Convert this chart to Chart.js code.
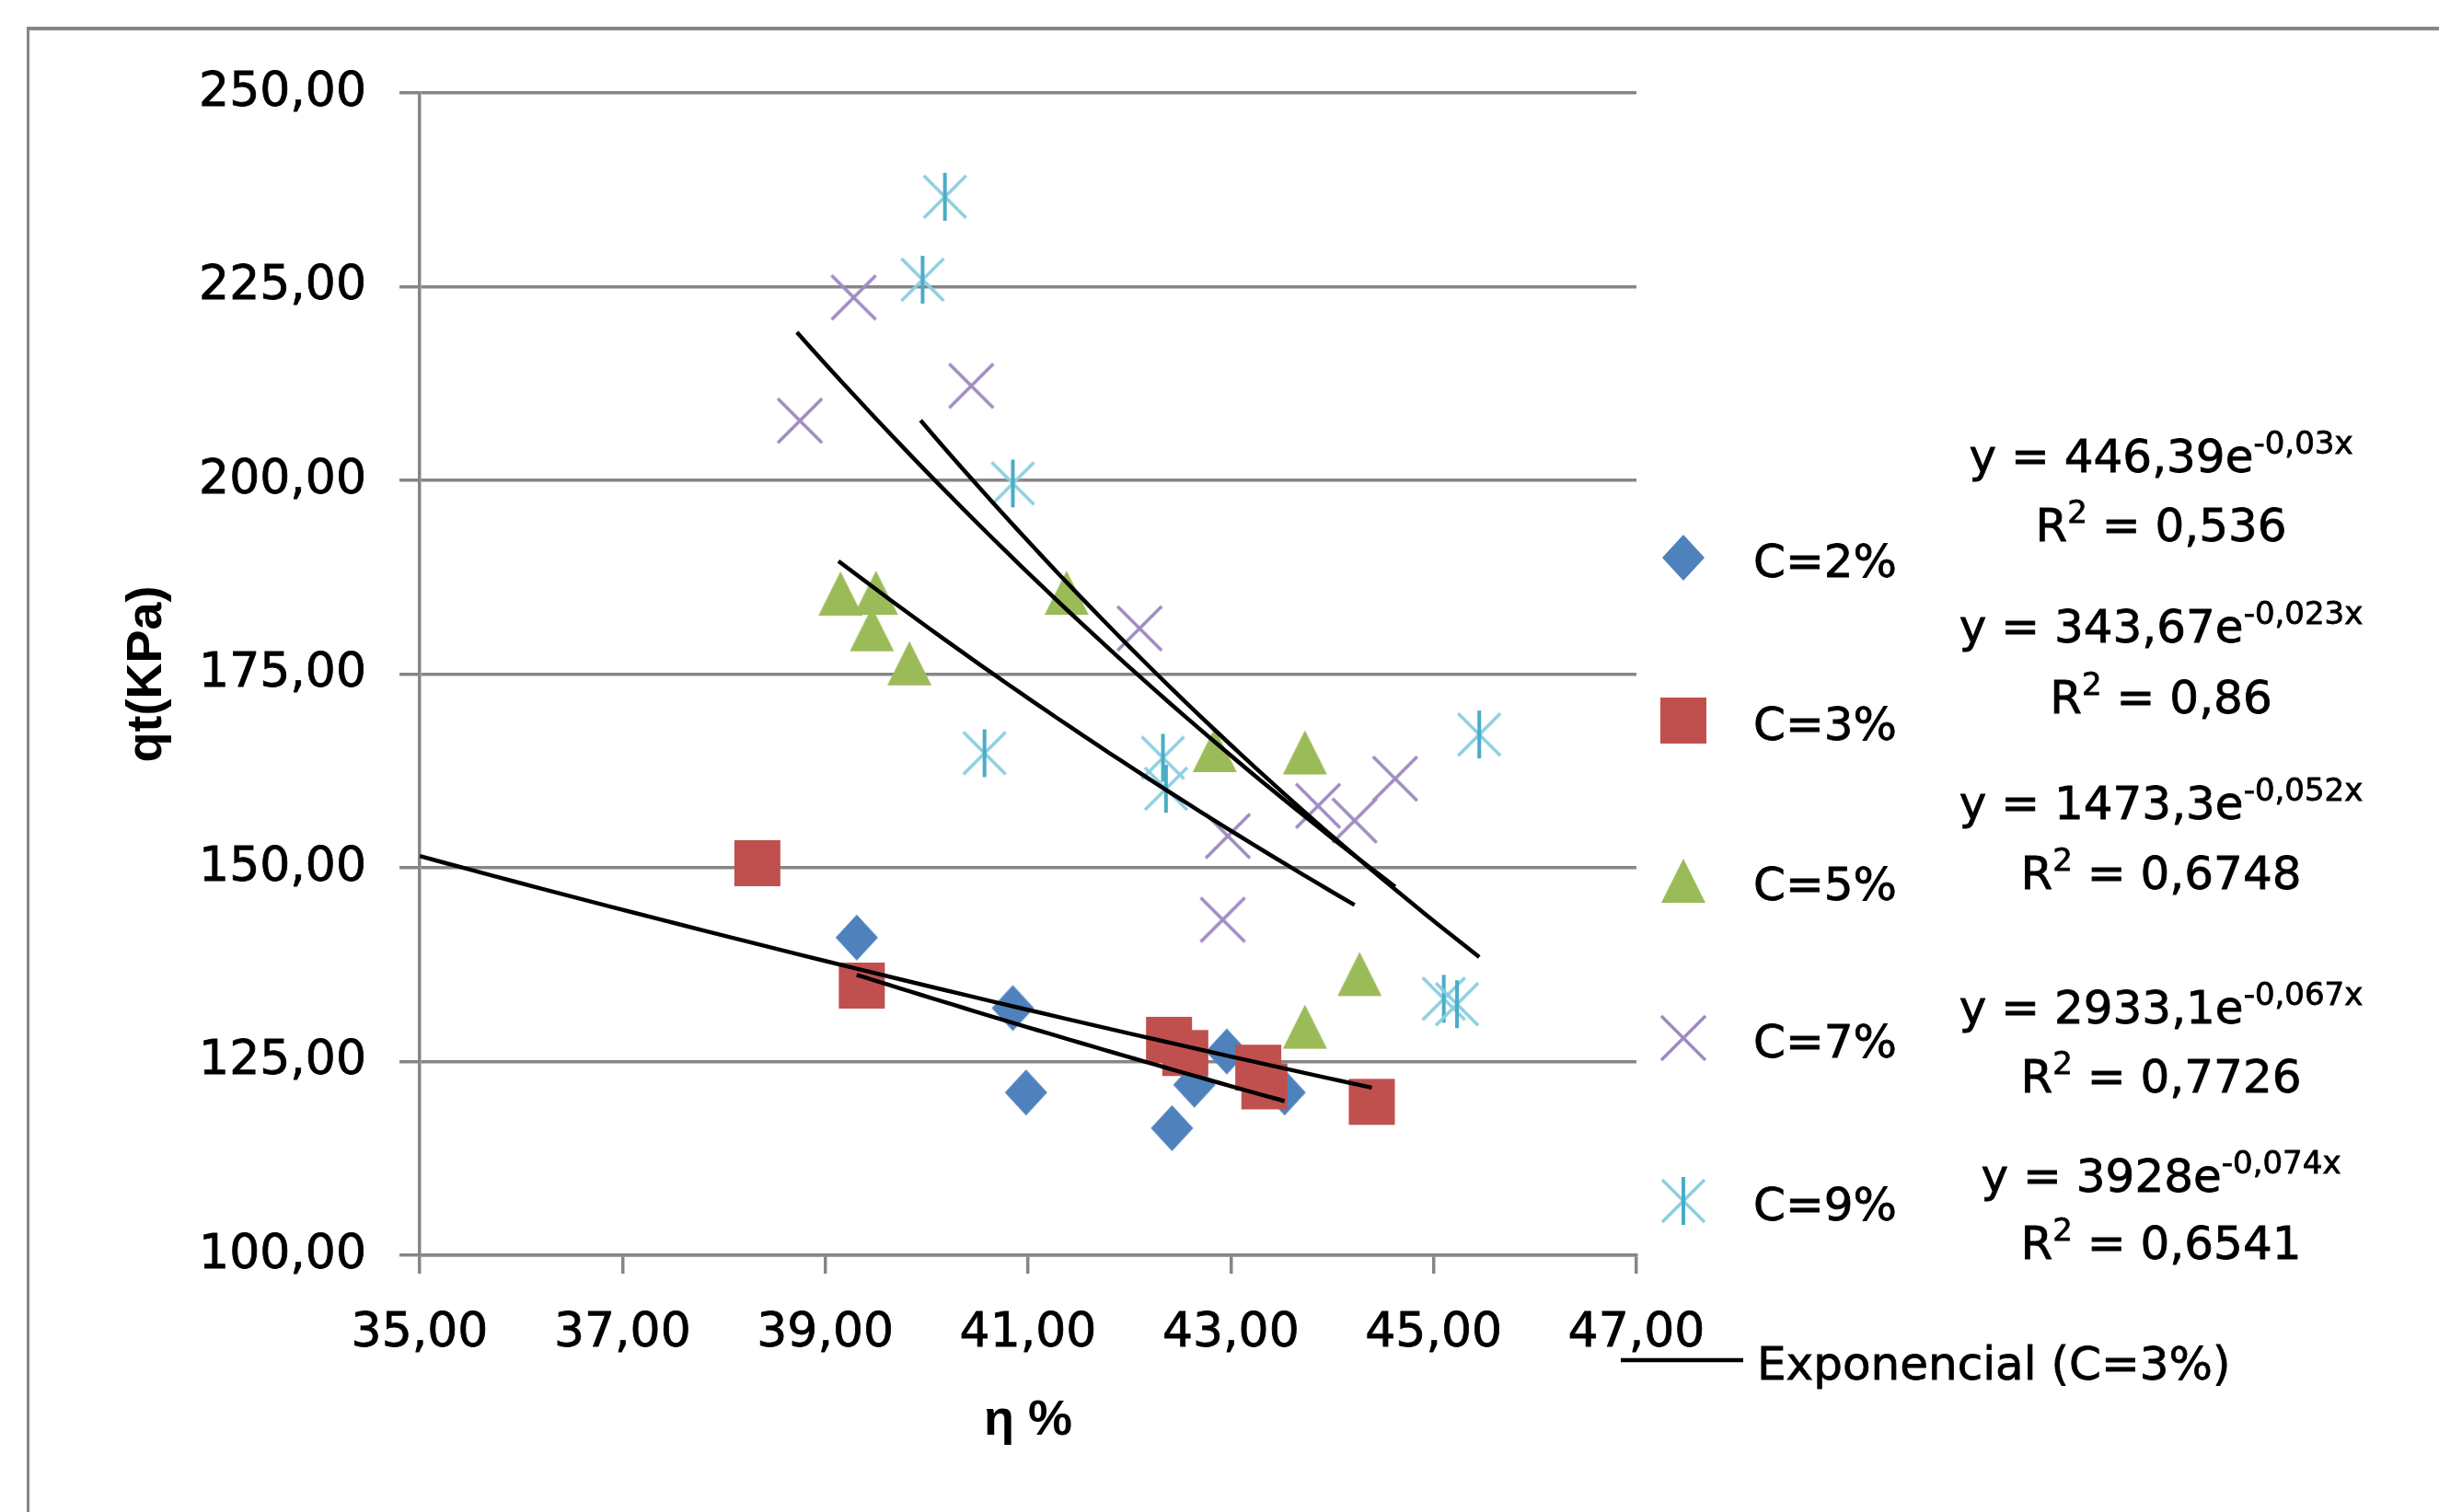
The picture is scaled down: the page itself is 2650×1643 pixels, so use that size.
<!DOCTYPE html>
<html>
<head>
<meta charset="utf-8">
<title>qt (KPa) vs η %</title>
<script src="https://cdn.jsdelivr.net/npm/chart.js@4.4.0/dist/chart.umd.min.js"></script>
<style>
    html, body { margin: 0; padding: 0; background: #fff; }
    #chart { display: block; }
</style>
</head>
<body>
<canvas id="chart" width="2650" height="1643"></canvas>
<script>
/* === DATA === */
const seriesNames = ['C=2%', 'C=3%', 'C=5%', 'C=7%', 'C=9%'];

const c2X = [39.31, 40.85, 40.98, 42.42, 42.64, 42.96, 43.53];
const c2Y = [141.0, 131.9, 121.0, 116.4, 122.0, 126.3, 121.0];

const c3X = [38.33, 39.36, 42.39, 42.55, 43.27, 43.33, 44.39];
const c3Y = [150.6, 134.8, 127.8, 126.1, 124.2, 121.8, 119.8];

const c5X = [39.15, 39.50, 39.46, 39.83, 41.38, 42.84, 43.73, 44.27, 43.73];
const c5Y = [185.4, 185.5, 180.8, 176.4, 185.5, 165.2, 164.9, 136.3, 129.5];

const c7X = [39.28, 38.75, 40.44, 42.10, 42.97, 42.92, 43.86, 44.22, 44.62];
const c7Y = [223.6, 207.7, 212.2, 180.9, 154.1, 143.3, 158.0, 156.1, 161.5];

const c9X = [40.18, 39.96, 40.85, 40.57, 42.33, 42.36, 45.45, 45.10, 45.23];
const c9Y = [236.6, 225.9, 199.6, 164.8, 164.2, 160.2, 167.2, 133.1, 132.4];

const xTicks = [35, 37, 39, 41, 43, 45, 47];
const xTickLabels = ['35,00', '37,00', '39,00', '41,00', '43,00', '45,00', '47,00'];
const yTicks = [100, 125, 150, 175, 200, 225, 250];
const yTickLabels = ['100,00', '125,00', '150,00', '175,00', '200,00', '225,00', '250,00'];

// exponential trendlines y = a * e^(b*x), one per series
const trendA = [446.39, 343.67, 1473.3, 2933.1, 3928];
const trendB = [-0.0302, -0.0234, -0.0524, -0.067, -0.0736];
const trendFrom = [39.31, 35.00, 39.13, 38.72, 39.94];
const trendTo = [43.53, 44.39, 44.22, 44.62, 45.45];

// equation labels as printed on the chart
const eqCoef = ['446,39', '343,67', '1473,3', '2933,1', '3928'];
const eqExp = ['-0,03x', '-0,023x', '-0,052x', '-0,067x', '-0,074x'];
const eqR2 = ['0,536', '0,86', '0,6748', '0,7726', '0,6541'];
const trendLegendLabel = 'Exponencial (C=3%)';

/* === STYLE === */
const GRAY = '#868686';
const TEXT_FONT = '"DejaVu Sans", Verdana, sans-serif';
const TITLE_FONT = '"Liberation Sans", Arial, sans-serif';

function makeMarker(kind) {
    const c = document.createElement('canvas');
    c.width = 54;
    c.height = 54;
    const g = c.getContext('2d');
    const m = 27;
    if (kind === 'diamond') {
        g.fillStyle = '#4F81BD';
        g.beginPath();
        g.moveTo(m, m - 25);
        g.lineTo(m + 23, m);
        g.lineTo(m, m + 25);
        g.lineTo(m - 23, m);
        g.closePath();
        g.fill();
    } else if (kind === 'square') {
        g.fillStyle = '#C0504D';
        g.fillRect(m - 25, m - 25, 50, 50);
    } else if (kind === 'triangle') {
        g.fillStyle = '#9BBB59';
        g.beginPath();
        g.moveTo(m, m - 24);
        g.lineTo(m + 24, m + 24);
        g.lineTo(m - 24, m + 24);
        g.closePath();
        g.fill();
    } else if (kind === 'cross') {
        g.strokeStyle = '#9f8ac2';
        g.lineWidth = 3.5;
        g.beginPath();
        g.moveTo(m - 24, m - 24); g.lineTo(m + 24, m + 24);
        g.moveTo(m + 24, m - 24); g.lineTo(m - 24, m + 24);
        g.stroke();
    } else if (kind === 'star') {
        g.strokeStyle = '#8ccfe0';
        g.lineWidth = 3.5;
        g.beginPath();
        g.moveTo(m - 23, m - 23); g.lineTo(m + 23, m + 23);
        g.moveTo(m + 23, m - 23); g.lineTo(m - 23, m + 23);
        g.stroke();
        g.strokeStyle = '#4BACC6';
        g.lineWidth = 4;
        g.beginPath();
        g.moveTo(m, m - 26); g.lineTo(m, m + 26);
        g.stroke();
    }
    return c;
}

const markers = [makeMarker('diamond'), makeMarker('square'), makeMarker('triangle'),
                 makeMarker('cross'), makeMarker('star')];

function scatterData(xs, ys) {
    return xs.map((x, i) => ({ x: x, y: ys[i] }));
}

function trendData(i) {
    const pts = [];
    const steps = 40;
    for (let k = 0; k <= steps; k++) {
        const x = trendFrom[i] + (trendTo[i] - trendFrom[i]) * k / steps;
        pts.push({ x: x, y: trendA[i] * Math.exp(trendB[i] * x) });
    }
    return pts;
}

const seriesX = [c2X, c3X, c5X, c7X, c9X];
const seriesY = [c2Y, c3Y, c5Y, c7Y, c9Y];

const datasets = [];
for (let i = 0; i < seriesNames.length; i++) {
    datasets.push({
        label: seriesNames[i],
        data: scatterData(seriesX[i], seriesY[i]),
        pointStyle: markers[i],
        pointRadius: 25,
        pointHoverRadius: 25,
        showLine: false,
        order: 5 - i   // later series sit on top, like in Excel
    });
}
for (let i = 0; i < seriesNames.length; i++) {
    datasets.push({
        label: 'Exponencial (' + seriesNames[i] + ')',
        data: trendData(i),
        showLine: true,
        borderColor: '#000',
        borderWidth: 4.5,
        pointRadius: 0,
        tension: 0,
        order: 0
    });
}

/* === PLUGINS: frame, legend, equations === */
const framePlugin = {
    id: 'frame',
    beforeDraw(chart) {
        const c = chart.ctx;
        c.save();
        c.fillStyle = GRAY;
        c.fillRect(29, 29, chart.width, 4);   // top edge
        c.fillRect(29, 29, 3, chart.height);  // left edge
        c.restore();
    }
};

function putText(c, text, x, y) {
    c.fillText(text, x, y);
    c.strokeText(text, x, y);
}

function drawWithSup(c, pieces, cx, baseline) {
    const mainFont = '50px ' + TEXT_FONT;
    const supFont = '34px ' + TEXT_FONT;
    let total = 0;
    for (const p of pieces) {
        c.font = p.sup ? supFont : mainFont;
        total += c.measureText(p.text).width;
    }
    let x = cx - total / 2;
    for (const p of pieces) {
        c.font = p.sup ? supFont : mainFont;
        putText(c, p.text, x, p.sup ? baseline - 20 : baseline);
        x += c.measureText(p.text).width;
    }
}

const legendPlugin = {
    id: 'sideLegend',
    afterDraw(chart) {
        const c = chart.ctx;
        const rowY = [606, 783, 957, 1128, 1305];
        c.save();
        c.fillStyle = '#000';
        c.strokeStyle = '#000';
        c.lineWidth = 0.8;
        c.textBaseline = 'alphabetic';
        c.textAlign = 'left';
        for (let i = 0; i < seriesNames.length; i++) {
            const m = markers[i];
            c.drawImage(m, 1829 - m.width / 2, rowY[i] - m.height / 2);
            c.font = '50px ' + TEXT_FONT;
            putText(c, seriesNames[i], 1905, rowY[i] + 21);
        }
        c.font = '50px ' + TEXT_FONT;
        putText(c, trendLegendLabel, 1909, 1499);

        // equations with R²
        const eqBase = [513, 698, 890, 1112, 1295];
        const r2Base = [588, 775, 966, 1187, 1368];
        for (let i = 0; i < eqCoef.length; i++) {
            drawWithSup(c, [{ text: 'y = ' + eqCoef[i] + 'e' }, { text: eqExp[i], sup: true }], 2348, eqBase[i]);
            drawWithSup(c, [{ text: 'R' }, { text: '2', sup: true }, { text: ' = ' + eqR2[i] }], 2348, r2Base[i]);
        }

        // trendline legend key
        c.lineWidth = 4.5;
        c.beginPath();
        c.moveTo(1761, 1478);
        c.lineTo(1894, 1478);
        c.stroke();
        c.restore();
    }
};

/* === CHART === */
const ctx = document.getElementById('chart').getContext('2d');
const tickFont = { family: TEXT_FONT, size: 52 };
const titleFont = { family: TITLE_FONT, size: 54, weight: 'bold' };

new Chart(ctx, {
    type: 'scatter',
    data: { datasets: datasets },
    options: {
        responsive: false,
        animation: false,
        devicePixelRatio: 1,
        layout: { padding: { left: 40, top: 101, right: 872, bottom: 10 } },
        plugins: {
            legend: { display: false },
            tooltip: { enabled: false }
        },
        scales: {
            x: {
                type: 'linear',
                min: 35,
                max: 47,
                afterBuildTicks: s => { s.ticks = xTicks.map(v => ({ value: v })); },
                afterFit: s => { s.height = 269; },
                grid: { drawOnChartArea: false, tickLength: 20, tickColor: GRAY, tickWidth: 3.5, color: GRAY, lineWidth: 3.5 },
                border: { color: GRAY, width: 3.5 },
                ticks: {
                    font: tickFont, color: '#000', padding: 34, maxRotation: 0,
                    textStrokeColor: '#000', textStrokeWidth: 0.8,
                    callback: (v, i) => xTickLabels[i]
                },
                title: { display: true, text: 'η %', font: titleFont, color: '#000', padding: { top: 0, bottom: 56 } }
            },
            y: {
                type: 'linear',
                min: 100,
                max: 250,
                afterBuildTicks: s => { s.ticks = yTicks.map(v => ({ value: v })); },
                afterFit: s => { s.width = 416; },
                grid: { color: GRAY, lineWidth: 3.5, tickLength: 22, tickColor: GRAY, tickWidth: 3.5 },
                border: { color: GRAY, width: 3.5 },
                ticks: {
                    font: tickFont, color: '#000', padding: 36,
                    textStrokeColor: '#000', textStrokeWidth: 0.8,
                    callback: (v, i) => yTickLabels[i]
                },
                title: { display: true, text: 'qt(KPa)', font: titleFont, color: '#000', padding: { top: 88, bottom: 0 } }
            }
        }
    },
    plugins: [framePlugin, legendPlugin]
});
</script>
</body>
</html>
